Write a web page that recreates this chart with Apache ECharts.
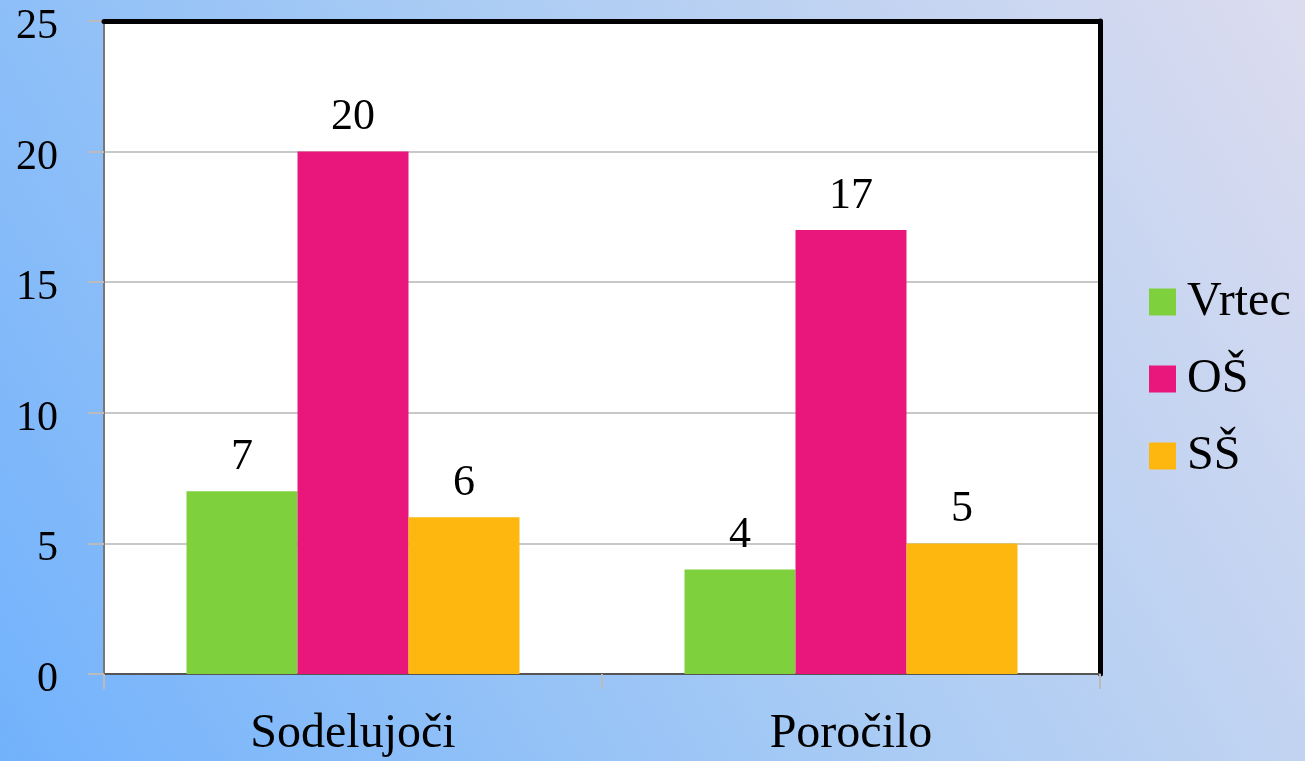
<!DOCTYPE html>
<html><head><meta charset="utf-8">
<script src="https://cdn.jsdelivr.net/npm/echarts@6/dist/echarts.min.js"></script>
<style>html,body{margin:0;padding:0;}#c{width:1305px;height:761px;}</style>
</head><body><div id="c"></div>
<script>
var categories = ['Sodelujoči', 'Poročilo'];
var seriesNames = ['Vrtec', 'OŠ', 'SŠ'];
var vrtec = [7, 4];
var os = [20, 17];
var ss = [6, 5];
var yTicks = [0, 5, 10, 15, 20, 25];

var colors = ['#7ED13D', '#E9177C', '#FEB70E'];
var font = '"Liberation Serif", "DejaVu Serif", serif';
var chart = echarts.init(document.getElementById('c'));
var data = [vrtec, os, ss];
chart.setOption({
  backgroundColor: new echarts.graphic.LinearGradient(0, 1, 1, 0, [
    {offset: 0, color: '#72b2fc'},
    {offset: 0.5, color: '#a8cbf4'},
    {offset: 1, color: '#dcdcef'}
  ]),
  animation: false,
  color: colors,
  textStyle: {fontFamily: font},
  grid: {left: 104, right: 205, top: 21, bottom: 87, show: true, backgroundColor: '#fff', borderColor: '#222', borderWidth: 1,
    containLabel: false, outerBoundsMode: 'none'},
  legend: {
    orient: 'vertical', left: 1149, top: 278, padding: 0, itemWidth: 27, itemHeight: 27, itemGap: 29,
    icon: 'rect',
    textStyle: {fontFamily: font, fontSize: 48, color: '#000', padding: [0, 0, 0, 6]},
    data: seriesNames
  },
  xAxis: [{
    type: 'category', data: categories, position: 'bottom',
    axisLine: {lineStyle: {color: '#555', width: 2}},
    axisTick: {show: true, length: 15, lineStyle: {color: '#bbb', width: 2}},
    axisLabel: {fontFamily: font, fontSize: 48, color: '#000', margin: 36}
  }, {
    type: 'value', position: 'top', min: 0, max: 1, z: 10,
    axisLine: {show: true, onZero: false, lineStyle: {color: '#000', width: 5}},
    axisTick: {show: false}, axisLabel: {show: false}, splitLine: {show: false}
  }],
  yAxis: [{
    type: 'value', min: 0, max: 25, interval: 5,
    axisLine: {show: true, lineStyle: {color: '#777', width: 2}},
    axisTick: {show: true, length: 16, lineStyle: {color: '#bbb', width: 2}},
    splitLine: {lineStyle: {color: '#c8c8c8', width: 2}},
    axisLabel: {fontFamily: font, fontSize: 42, color: '#000', margin: 46, lineHeight: 12, verticalAlign: 'middle',
      formatter: function (v) { return yTicks.indexOf(v) >= 0 ? '\n' + String(v) : ''; }}
  }, {
    type: 'value', min: 0, max: 25, interval: 5, position: 'right',
    axisLine: {show: true, onZero: false, lineStyle: {color: '#000', width: 5}},
    axisTick: {show: false}, axisLabel: {show: false}, splitLine: {show: false}
  }],
  series: seriesNames.map(function (n, i) {
    return {
      name: n, type: 'bar', data: data[i], barWidth: 111, barGap: '0%',
      label: {show: true, position: 'top', distance: 12, fontFamily: font, fontSize: 44, color: '#000'}
    };
  })
});
</script></body></html>
